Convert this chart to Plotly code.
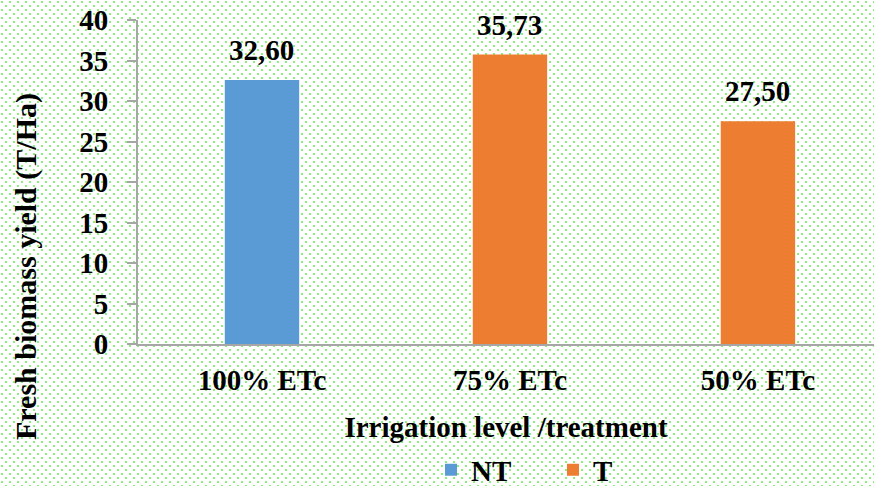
import base64
import plotly.graph_objects as go

# data
categories = ["100% ETc", "75% ETc", "50% ETc"]
nt_cats = ["100% ETc"]
nt_vals = [32.60]
t_cats = ["75% ETc", "50% ETc"]
t_vals = [35.73, 27.50]

FONT = "Liberation Serif, Times New Roman, serif"
SZ = 29

def fmt(v):
    return f"{v:.2f}".replace(".", ",")

def font(size=SZ):
    return dict(family=FONT, size=size, color="black", weight="bold")

# dotted green background like the original
svg = ('<svg xmlns="http://www.w3.org/2000/svg" width="874" height="486">'
       '<defs><pattern id="p" width="8" height="8" patternUnits="userSpaceOnUse">'
       '<rect x="1" y="1" width="2" height="2" fill="#8cf07c"/>'
       '<rect x="5" y="5" width="2" height="2" fill="#8cf07c"/>'
       '</pattern></defs><rect width="874" height="486" fill="white"/>'
       '<rect width="874" height="486" fill="url(#p)"/></svg>')
bg = "data:image/svg+xml;base64," + base64.b64encode(svg.encode()).decode()

PW, PH = 736, 324  # plot area size

fig = go.Figure()
fig.add_trace(go.Bar(x=nt_cats, y=nt_vals, name="NT", marker_color="#5b9bd5",
                     width=0.3, marker_line_width=0))
fig.add_trace(go.Bar(x=t_cats, y=t_vals, name="T", marker_color="#ed7d31",
                     width=0.3, marker_line_width=0))

# value labels above the bars
for xs, vs in ((nt_cats, nt_vals), (t_cats, t_vals)):
    for x, v in zip(xs, vs):
        fig.add_annotation(x=x, y=v, text=fmt(v), showarrow=False,
                           yanchor="bottom", yshift=12, font=font())

# y title sits lower than the plot centre in the original
fig.add_annotation(text="Fresh biomass yield (T/Ha)", textangle=-90, showarrow=False,
                   xref="paper", yref="paper", x=(26-138)/PW, y=(344-267)/PH,
                   xanchor="center", yanchor="middle", font=font(30))

fig.update_layout(
    width=874, height=486,
    margin=dict(l=138, r=0, t=20, b=142, autoexpand=False),
    barmode="overlay",
    paper_bgcolor="white",
    plot_bgcolor="rgba(0,0,0,0)",
    font=font(),
    images=[dict(source=bg, xref="paper", yref="paper", x=-138/PW, y=1+20/PH,
                 sizex=874/PW, sizey=486/PH, xanchor="left", yanchor="top",
                 sizing="stretch", layer="below")],
    legend=dict(orientation="h", x=(431-138)/PW, xanchor="left",
                y=(344-470)/PH, yanchor="middle", bgcolor="rgba(0,0,0,0)",
                font=font(), entrywidth=77, entrywidthmode="pixels",
                traceorder="normal"),
    showlegend=True,
)
fig.update_xaxes(categoryorder="array", categoryarray=categories, automargin=False,
                 range=[-0.5, 2.468],
                 showline=True, linecolor="#a6a6a6", linewidth=2,
                 ticklabelstandoff=9,
                 title=dict(text="Irrigation level /treatment", standoff=22, font=font()),
                 tickfont=font())
fig.update_yaxes(range=[0, 40], dtick=5, showgrid=False, zeroline=False, automargin=False,
                 showline=True, linecolor="#a6a6a6", linewidth=2,
                 ticks="outside", ticklen=9, tickcolor="#a6a6a6", tickwidth=2,
                 ticklabelstandoff=13, tickfont=font())

# page body has a default margin; drop it so the chart fills the window
fig.write_html("out.html", config={"displayModeBar": False},
               post_script="document.body.style.margin='0';")
